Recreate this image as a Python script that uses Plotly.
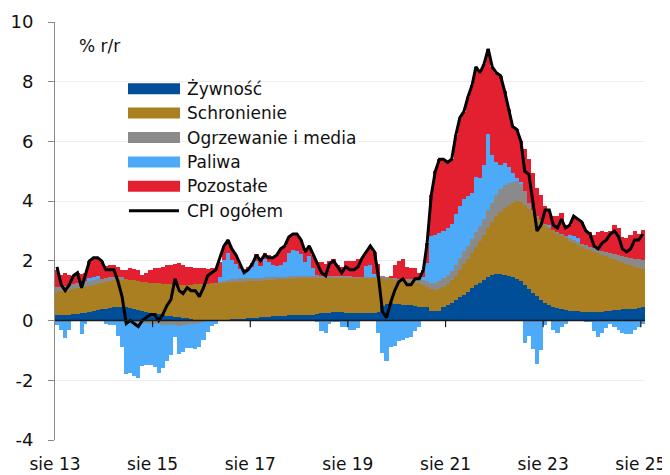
import plotly.graph_objects as go
import pandas as pd

# ---------------- data (contributions to US CPI y/y, p.p.) ----------------
months = pd.date_range("2013-08-01", "2025-08-01", freq="MS")
x_mid = months + pd.Timedelta(days=15)

zywnosc = [
    0.18,0.19,0.2,0.2,0.21,
    0.22,0.24,0.27,0.3,0.33,0.36,0.38,0.4,0.42,0.44,0.45,0.46,
    0.45,0.42,0.38,0.35,0.32,0.3,0.27,0.25,0.22,0.2,0.17,0.15,
    0.13,0.11,0.09,0.07,0.05,0.03,0.02,0.01,0.0,0.0,0.0,0.01,
    0.02,0.03,0.04,0.05,0.05,0.06,0.07,0.08,0.1,0.11,0.12,0.13,
    0.14,0.15,0.16,0.17,0.18,0.19,0.19,0.19,0.19,0.2,0.2,0.22,
    0.24,0.26,0.27,0.28,0.28,0.28,0.27,0.26,0.26,0.25,0.26,0.25,
    0.25,0.26,0.3,0.48,0.56,0.6,0.56,0.55,0.53,0.52,0.51,0.5,
    0.47,0.45,0.45,0.33,0.31,0.33,0.47,0.52,0.6,0.7,0.78,0.85,
    0.95,1.08,1.18,1.27,1.37,1.47,1.52,1.56,1.55,1.52,1.5,1.45,
    1.39,1.32,1.2,1.06,0.93,0.82,0.7,0.6,0.52,0.46,0.41,0.38,
    0.36,0.33,0.31,0.31,0.29,0.29,0.3,0.3,0.3,0.3,0.31,0.32,
    0.35,0.36,0.38,0.38,0.38,0.4,0.42,0.45,
]
schronienie = [
    0.79,0.79,0.8,0.82,0.84,
    0.86,0.86,0.86,0.86,0.87,0.87,0.88,0.9,0.91,0.92,0.93,0.93,
    0.93,0.95,0.97,0.98,0.98,0.98,1.0,1.01,1.03,1.04,1.06,1.07,
    1.07,1.09,1.11,1.13,1.15,1.18,1.2,1.22,1.24,1.25,1.25,1.25,
    1.25,1.25,1.24,1.24,1.25,1.24,1.24,1.24,1.23,1.23,1.23,1.23,
    1.23,1.23,1.22,1.22,1.22,1.21,1.22,1.22,1.23,1.22,1.22,1.21,
    1.19,1.18,1.17,1.16,1.17,1.17,1.18,1.19,1.19,1.2,1.19,1.2,
    1.2,1.19,1.15,0.97,0.86,0.8,0.81,0.8,0.8,0.8,0.79,0.78,
    0.78,0.75,0.67,0.72,0.72,0.74,0.67,0.7,0.75,0.8,0.9,1.03,
    1.1,1.17,1.27,1.38,1.48,1.63,1.78,1.94,2.1,2.26,2.38,2.5,
    2.61,2.65,2.68,2.69,2.67,2.63,2.63,2.62,2.6,2.56,2.51,2.45,
    2.39,2.35,2.29,2.21,2.16,2.11,2.05,2.0,1.95,1.9,1.84,1.78,
    1.7,1.64,1.57,1.52,1.47,1.4,1.34,1.27,
]
ogrzewanie = [
    0.16,0.16,0.15,0.15,0.16,
    0.18,0.2,0.2,0.18,0.17,0.15,0.14,0.13,0.12,0.1,0.08,0.06,
    0.0,-0.02,-0.04,-0.06,-0.08,-0.08,-0.1,-0.1,-0.12,-0.14,-0.15,-0.15,
    -0.16,-0.17,-0.16,-0.14,-0.12,-0.1,-0.08,-0.05,-0.03,0.0,0.02,0.04,
    0.06,0.08,0.1,0.11,0.12,0.12,0.12,0.12,0.11,0.1,0.1,0.1,
    0.1,0.09,0.08,0.08,0.08,0.08,0.08,0.08,0.08,0.08,0.08,0.08,
    0.07,0.06,0.05,0.05,0.04,0.03,0.03,0.03,0.02,0.02,0.02,0.02,
    0.02,0.02,0.02,0.02,0.02,0.03,0.04,0.05,0.06,0.07,0.08,0.1,
    0.15,0.17,0.2,0.22,0.23,0.25,0.27,0.29,0.32,0.36,0.4,0.44,
    0.46,0.48,0.5,0.53,0.56,0.6,0.65,0.72,0.76,0.75,0.72,0.7,
    0.66,0.62,0.45,0.2,0.1,0.05,0.03,0.02,0.02,0.03,0.05,0.07,
    0.08,0.09,0.1,0.11,0.11,0.12,0.12,0.12,0.12,0.13,0.14,0.16,
    0.18,0.2,0.22,0.24,0.25,0.27,0.29,0.31,
]
paliwa = [
    -0.15,-0.3,-0.6,-0.32,0.0,
    0.0,-0.45,-0.1,0.1,0.08,0.12,0.0,-0.12,-0.15,-0.15,-0.5,-0.9,
    -1.8,-1.75,-1.8,-1.85,-1.45,-1.4,-1.4,-1.45,-1.65,-1.45,-1.2,-1.0,
    -0.4,-0.95,-0.9,-0.78,-0.8,-0.85,-0.82,-0.6,-0.35,-0.18,-0.1,0.15,
    0.7,0.9,0.65,0.5,0.3,0.2,0.25,0.35,0.55,0.4,0.6,0.5,
    0.4,0.35,0.4,0.5,0.8,0.9,0.85,0.75,0.45,0.65,0.25,-0.05,
    -0.35,-0.4,-0.1,-0.05,-0.05,-0.2,-0.2,-0.3,-0.3,-0.25,0.0,0.35,
    0.4,0.1,-0.4,-1.1,-1.35,-0.9,-0.85,-0.7,-0.65,-0.6,-0.55,-0.35,
    -0.2,0.1,0.6,1.55,1.6,1.6,1.6,1.6,1.55,1.7,1.75,1.75,
    1.65,1.55,1.85,1.6,1.8,2.55,1.6,1.1,0.8,0.75,0.55,0.3,
    0.1,0.05,-0.75,-0.5,-0.95,-1.45,-1.0,-0.15,0.05,-0.3,-0.4,-0.2,
    -0.1,0.1,0.12,0.12,0.0,-0.05,-0.05,-0.35,-0.55,-0.4,-0.25,-0.1,
    -0.2,-0.3,-0.4,-0.45,-0.45,-0.3,-0.2,-0.12,
]
pozostale = [
    0.57,0.4,0.45,0.35,0.29,
    0.34,0.25,0.27,0.56,0.65,0.6,0.6,0.39,0.4,0.39,0.34,0.25,
    0.32,0.4,0.39,0.38,0.23,0.3,0.43,0.49,0.52,0.55,0.62,0.63,
    0.7,0.72,0.65,0.6,0.58,0.55,0.55,0.52,0.5,0.5,0.48,0.5,
    0.47,0.44,0.37,0.3,0.18,0.1,0.1,0.15,0.25,0.25,0.2,0.25,
    0.23,0.38,0.54,0.53,0.52,0.52,0.56,0.46,0.35,0.35,0.45,0.44,
    0.45,0.4,0.51,0.56,0.36,0.32,0.52,0.52,0.53,0.58,0.63,0.48,
    0.63,0.73,0.43,0.0,0.0,0.07,0.44,0.6,0.66,0.41,0.37,0.37,
    0.2,0.23,0.68,1.38,2.14,2.48,2.39,2.19,2.18,2.64,2.97,2.93,
    3.34,3.62,3.7,3.52,3.39,2.85,2.95,2.98,2.99,2.42,1.95,1.55,
    1.64,1.36,1.42,1.45,1.25,0.95,0.84,0.61,0.51,0.45,0.53,0.7,
    0.37,0.33,0.68,0.65,0.74,0.53,0.48,0.43,0.58,0.67,0.66,0.74,
    0.97,0.9,0.63,0.61,0.75,0.93,0.85,0.99,
]
cpi = [
    1.8,1.2,1.0,1.2,1.5,
    1.6,1.1,1.5,2.0,2.1,2.1,2.0,1.7,1.7,1.7,1.3,0.8,
    -0.1,0.0,-0.1,-0.2,0.0,0.1,0.2,0.2,0.0,0.2,0.5,0.7,
    1.4,1.0,0.9,1.1,1.0,1.0,0.8,1.1,1.5,1.6,1.7,2.1,
    2.5,2.7,2.4,2.2,1.9,1.6,1.7,1.9,2.2,2.0,2.2,2.1,
    2.1,2.2,2.4,2.5,2.8,2.9,2.9,2.7,2.3,2.5,2.2,1.9,
    1.6,1.5,1.9,2.0,1.8,1.6,1.8,1.7,1.7,1.8,2.1,2.3,
    2.5,2.3,1.5,0.3,0.1,0.6,1.0,1.3,1.4,1.2,1.2,1.4,
    1.4,1.7,2.6,4.2,5.0,5.4,5.4,5.3,5.4,6.2,6.8,7.0,
    7.5,7.9,8.5,8.3,8.6,9.1,8.5,8.3,8.2,7.7,7.1,6.5,
    6.4,6.0,5.0,4.9,4.0,3.0,3.2,3.7,3.7,3.2,3.1,3.4,
    3.1,3.2,3.5,3.4,3.3,3.0,2.9,2.5,2.4,2.6,2.7,2.9,
    3.0,2.8,2.4,2.3,2.4,2.7,2.7,2.9,
]

series_names = ["Żywność", "Schronienie", "Ogrzewanie i media", "Paliwa", "Pozostałe"]
line_name = "CPI ogółem"
tick_dates = ["2013-08-01", "2015-08-01", "2017-08-01", "2019-08-01",
              "2021-08-01", "2023-08-01", "2025-08-01"]
tick_labels = ["sie 13", "sie 15", "sie 17", "sie 19", "sie 21", "sie 23", "sie 25"]
y_ticks = [-4, -2, 0, 2, 4, 6, 8, 10]
y_tick_labels = ["-4", "-2", "0", "2", "4", "6", "8", "10"]

# ---------------- style ----------------
colors = ["#004D98", "#A97F22", "#8A8A8A", "#4DAAF8", "#E3202F"]
FONT = "DejaVu Sans"
FS = 17
OFF = 8                      # default page body margin of the browser
W, H = 670 - OFF, 475 - OFF
ML, MR, MT, MB = 55 - OFF, 25, 22 - OFF, 35
PW, PH = W - ML - MR, H - MT - MB
bar_width_ms = 31 * 24 * 3600 * 1000

fig = go.Figure()
for name, vals, col in zip(series_names,
                           [zywnosc, schronienie, ogrzewanie, paliwa, pozostale],
                           colors):
    fig.add_trace(go.Bar(x=x_mid, y=vals, name=name, marker_color=col,
                         marker_line_width=0, width=bar_width_ms,
                         showlegend=False))
fig.add_trace(go.Scatter(x=x_mid, y=cpi, name=line_name, mode="lines",
                         line=dict(color="black", width=3), showlegend=False))

# screen-pixel -> paper helpers
def px_x(px):
    return (px - OFF - ML) / PW

def px_y(py):
    return (OFF + MT + PH - py) / PH

shapes = []
annotations = []
# zero line
shapes.append(dict(type="line", xref="paper", yref="y", x0=0, x1=1, y0=0, y1=0,
                   line=dict(color="#1a1a1a", width=1.5), layer="above"))
# small tick marks on the zero line
for d in tick_dates[1:]:
    shapes.append(dict(type="line", xref="x", yref="y", x0=d, x1=d, y0=0, y1=-0.22,
                       line=dict(color="#1a1a1a", width=1.2), layer="above"))

# manual legend
row0, step = 88.7, 24.4
sx0, sx1, tx = 128, 180, 185
for i, (name, col) in enumerate(zip(series_names, colors)):
    cy = row0 + i * step
    shapes.append(dict(type="rect", xref="paper", yref="paper",
                       x0=px_x(sx0), x1=px_x(sx1),
                       y0=px_y(cy + 5.5), y1=px_y(cy - 5.5),
                       fillcolor=col, line=dict(width=0), layer="above"))
    annotations.append(dict(x=px_x(tx), y=px_y(cy), xref="paper", yref="paper",
                            text=name, showarrow=False, xanchor="left",
                            yanchor="middle", font=dict(size=FS, color="#111")))
cy = row0 + 5 * step
shapes.append(dict(type="line", xref="paper", yref="paper",
                   x0=px_x(sx0 + 1), x1=px_x(sx1 - 1), y0=px_y(cy), y1=px_y(cy),
                   line=dict(color="black", width=3), layer="above"))
annotations.append(dict(x=px_x(tx), y=px_y(cy), xref="paper", yref="paper",
                        text=line_name, showarrow=False, xanchor="left",
                        yanchor="middle", font=dict(size=FS, color="#111")))
# unit label
annotations.append(dict(x=px_x(77), y=px_y(46), xref="paper", yref="paper",
                        text="% r/r", showarrow=False, xanchor="left",
                        yanchor="middle", font=dict(size=FS, color="#111")))

fig.update_layout(
    width=W, height=H,
    margin=dict(l=ML, r=MR, t=MT, b=MB, autoexpand=False),
    barmode="relative", bargap=0,
    plot_bgcolor="white", paper_bgcolor="white",
    font=dict(family=FONT, size=FS, color="#111"),
    shapes=shapes, annotations=annotations,
    showlegend=False,
    xaxis=dict(type="date", range=["2013-08-01", "2025-09-01"],
               tickvals=tick_dates, ticktext=tick_labels, ticks="",
               showgrid=False, showline=False, zeroline=False, automargin=False,
               tickfont=dict(size=FS), ticklabelstandoff=12),
    yaxis=dict(range=[-4, 10], tickvals=y_ticks, ticktext=y_tick_labels,
               ticks="outside", ticklen=6, tickcolor="#888",
               showline=True, linecolor="#888", linewidth=1, automargin=False,
               showgrid=True, gridcolor="#eeeeee", gridwidth=1,
               zeroline=False, tickfont=dict(size=FS + 1), ticklabelstandoff=11),
)

fig.write_html("out.html")
